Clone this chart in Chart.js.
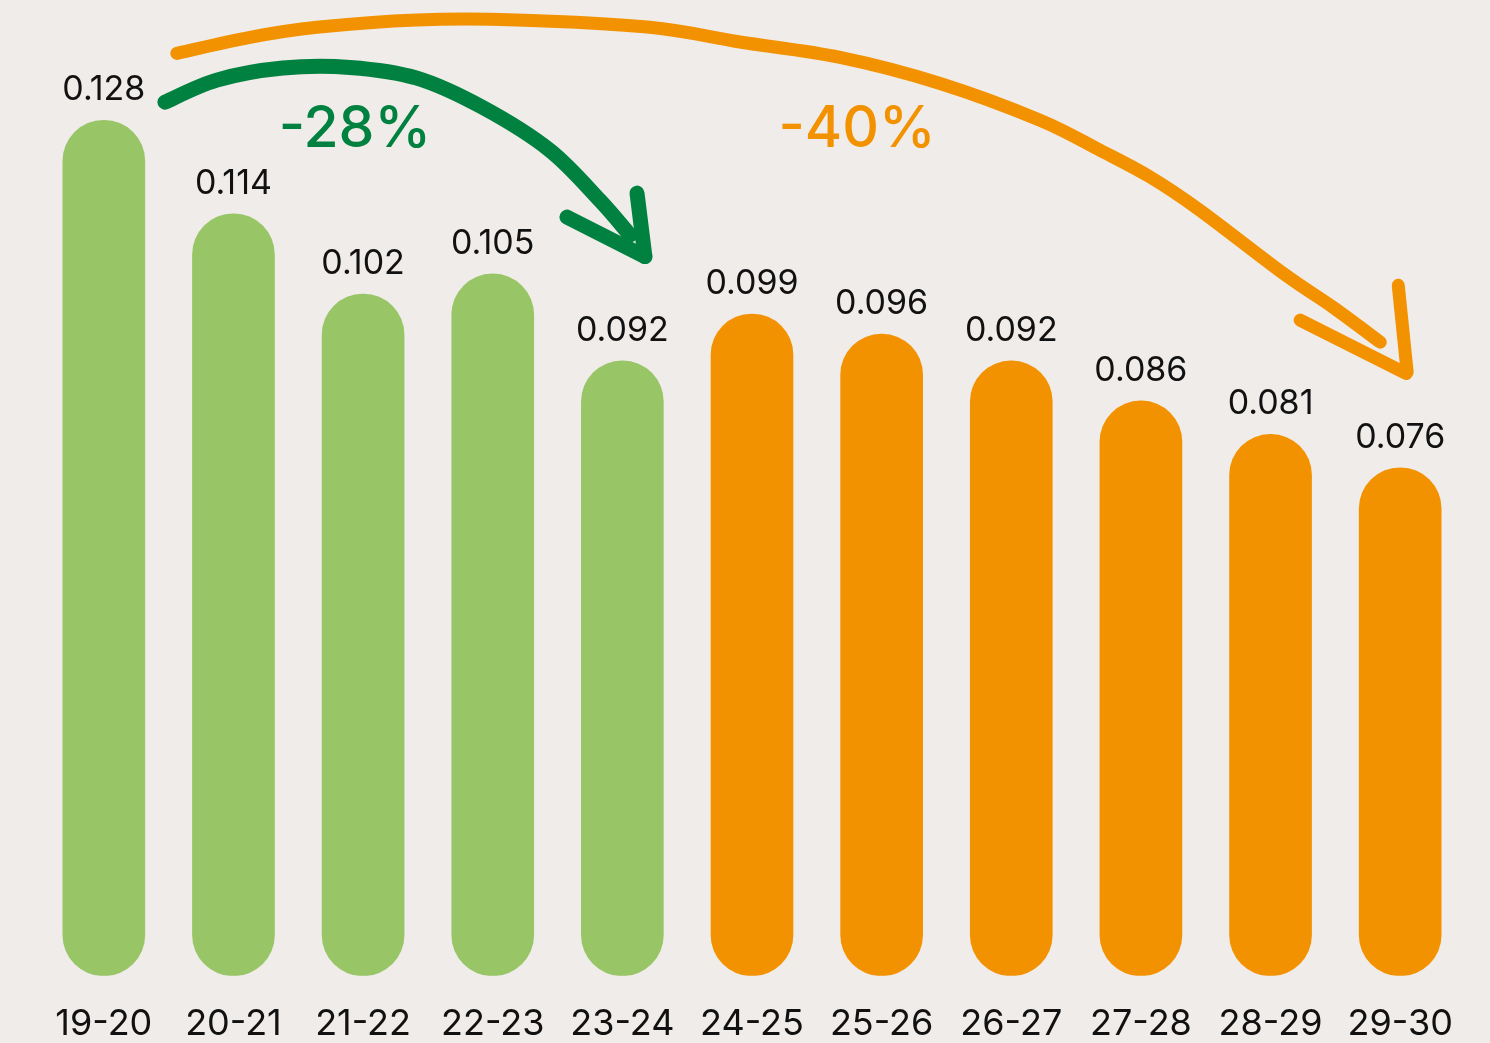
<!DOCTYPE html>
<html>
<head>
<meta charset="utf-8">
<script src="https://cdn.jsdelivr.net/npm/chart.js@4"></script>
<style>
  html, body { margin: 0; padding: 0; background: #f0ecea; }
  #wrap { width: 1490px; height: 1043px; position: relative; }
</style>
</head>
<body>
<div id="wrap"><canvas id="c"></canvas></div>
<script>
// ---- data ----
const categories = ['19-20','20-21','21-22','22-23','23-24','24-25','25-26','26-27','27-28','28-29','29-30'];
const values = [0.128, 0.114, 0.102, 0.105, 0.092, 0.099, 0.096, 0.092, 0.086, 0.081, 0.076];
const actualCount = 5; // first five periods (green), rest projected (orange)
const changeLabels = ['-28%', '-40%'];

// annotation arrows, in data space: [category index, value]
const greenArrowPath = [[0.471,0.1307],[0.872,0.1340],[1.381,0.1358],[1.898,0.1359],[2.415,0.1343],[2.924,0.1299],[3.441,0.1235],[3.827,0.1160],[4.059,0.1108]];
const greenArrowHead = [[[3.573,0.1135],[4.174,0.1076]], [[4.113,0.1171],[4.174,0.1076]]];
const orangeArrowPath = [[0.563,0.1380],[1.127,0.1404],[1.644,0.1419],[2.415,0.1430],[3.187,0.1430],[4.213,0.1419],[4.907,0.1397],[5.679,0.1374],[6.451,0.1335],[7.222,0.1280],[7.685,0.1235],[8.071,0.1195],[8.457,0.1145],[9.097,0.1051],[9.483,0.1000],[9.846,0.0948]];
const orangeArrowHead = [[[9.228,0.0981],[10.046,0.0901]], [[9.985,0.1033],[10.054,0.0903]]];
const changeLabelPos = [[1.937,0.1265],[5.810,0.1265]];

const GREEN = '#98c566';
const ORANGE = '#f39200';
const DARKGREEN = '#00813f';
const FONT = 'Inter, "Noto Sans", sans-serif';

function smoothPath(ctx, pts) {
  ctx.moveTo(pts[0][0], pts[0][1]);
  for (let i = 0; i < pts.length - 1; i++) {
    const p0 = pts[i - 1] || pts[i];
    const p1 = pts[i];
    const p2 = pts[i + 1];
    const p3 = pts[i + 2] || p2;
    const c1x = p1[0] + (p2[0] - p0[0]) / 6, c1y = p1[1] + (p2[1] - p0[1]) / 6;
    const c2x = p2[0] - (p3[0] - p1[0]) / 6, c2y = p2[1] - (p3[1] - p1[1]) / 6;
    ctx.bezierCurveTo(c1x, c1y, c2x, c2y, p2[0], p2[1]);
  }
}

const bgPlugin = {
  id: 'bg',
  beforeDraw(chart) {
    const ctx = chart.ctx;
    ctx.save();
    ctx.fillStyle = '#f0ecea';
    ctx.fillRect(0, 0, chart.width, chart.height);
    ctx.restore();
  }
};

const labelsPlugin = {
  id: 'valueLabels',
  afterDatasetsDraw(chart) {
    const ctx = chart.ctx;
    const meta = chart.getDatasetMeta(0);
    ctx.save();
    ctx.font = '400 34px ' + FONT;
    ctx.fillStyle = '#111111';
    ctx.textAlign = 'center';
    ctx.textBaseline = 'alphabetic';
    meta.data.forEach((bar, i) => {
      ctx.fillText(values[i].toFixed(3), bar.x, bar.y - 20);
    });
    ctx.restore();
  }
};

const arrowsPlugin = {
  id: 'arrows',
  afterDatasetsDraw(chart) {
    const ctx = chart.ctx;
    const xs = chart.scales.x, ys = chart.scales.y;
    const toPx = p => [xs.getPixelForValue(p[0]), ys.getPixelForValue(p[1])];
    function drawArrow(path, heads, color, width) {
      ctx.save();
      ctx.strokeStyle = color;
      ctx.lineWidth = width;
      ctx.lineCap = 'round';
      ctx.lineJoin = 'round';
      ctx.beginPath();
      smoothPath(ctx, path.map(toPx));
      ctx.stroke();
      heads.forEach(seg => {
        const a = toPx(seg[0]), b = toPx(seg[1]);
        ctx.beginPath();
        ctx.moveTo(a[0], a[1]);
        ctx.lineTo(b[0], b[1]);
        ctx.stroke();
      });
      ctx.restore();
    }
    drawArrow(orangeArrowPath, orangeArrowHead, ORANGE, 13);
    drawArrow(greenArrowPath, greenArrowHead, DARKGREEN, 15);

    ctx.save();
    ctx.font = '500 57px ' + FONT;
    ctx.textAlign = 'center';
    ctx.textBaseline = 'middle';
    const colors = [DARKGREEN, ORANGE];
    changeLabels.forEach((t, i) => {
      const p = toPx(changeLabelPos[i]);
      ctx.fillStyle = colors[i];
      ctx.fillText(t, p[0], p[1]);
    });
    ctx.restore();
  }
};

new Chart(document.getElementById('c'), {
  type: 'bar',
  data: {
    labels: categories,
    datasets: [{
      data: values,
      backgroundColor: ctx => ctx.dataIndex < actualCount ? GREEN : ORANGE,
      borderRadius: 60,
      borderSkipped: false,
      barThickness: 82
    }]
  },
  options: {
    responsive: true,
    maintainAspectRatio: false,
    animation: false,
    events: [],
    layout: { padding: { left: 39, right: 25, top: 40, bottom: -30 } },
    plugins: { legend: { display: false }, tooltip: { enabled: false } },
    scales: {
      x: {
        grid: { display: false, drawTicks: false },
        border: { display: false },
        ticks: { color: '#111111', font: { family: FONT, size: 36 }, padding: 27, maxRotation: 0, autoSkip: false }
      },
      y: {
        display: false,
        min: 0,
        max: 0.14
      }
    }
  },
  plugins: [bgPlugin, arrowsPlugin, labelsPlugin]
});
</script>
</body>
</html>
